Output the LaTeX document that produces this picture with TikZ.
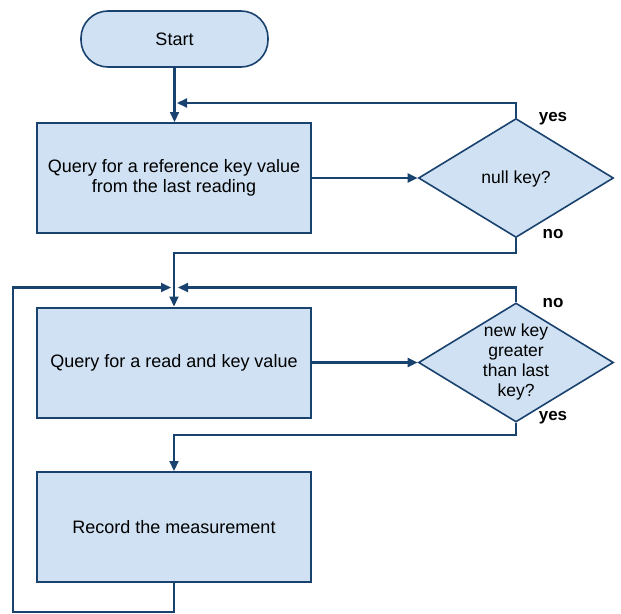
\documentclass[tikz,border=0pt]{standalone}
\usepackage{fontspec}
\setmainfont{Liberation Sans}
\usetikzlibrary{shapes.geometric,arrows.meta}
\definecolor{fillb}{HTML}{CFE1F2}
\definecolor{lineb}{HTML}{1A426E}
\begin{document}
\begin{tikzpicture}[x=1pt,y=1pt,
  every node/.style={font=\fontsize{18}{20}\selectfont},
  boxst/.style={draw=lineb,fill=fillb,line width=2pt,minimum width=274pt,minimum height=110pt,inner sep=0pt,align=center},
  startst/.style={draw=lineb,fill=fillb,line width=1.6pt,rounded corners=27pt,minimum width=187pt,minimum height=56pt,inner sep=0pt},
  diast/.style={draw=lineb,fill=fillb,line width=1.6pt,diamond,minimum width=195pt,minimum height=119pt,inner sep=0pt},
  dtext/.style={align=center,font=\fontsize{17.5}{20}\selectfont},
  lab/.style={font=\bfseries\fontsize{17}{18}\selectfont},
  conn/.style={draw=lineb,line width=2.2pt,-{Triangle[length=10pt,width=9pt]}}]
\useasboundingbox (0,0) rectangle (621,-613);
\node[startst] (start) at (174.5,-39) {Start};
\node[boxst] (b1) at (174,-178) {Query for a reference key value\\from the last reading};
\node[diast] (d1) at (516,-178) {};
\node[dtext] (d1t) at (516,-179) {null key?};
\node[boxst] (b2) at (174,-362.5) {Query for a read and key value};
\node[diast] (d2) at (516,-362.5) {};
\node[dtext] (d2t) at (516,-362) {new key\\greater\\than last\\key?};
\node[boxst] (b3) at (174,-527) {Record the measurement};
\node[lab] (y1) at (553,-119) {yes};
\node[lab] (n1) at (553,-234) {no};
\node[lab] (n2) at (553,-303) {no};
\node[lab] (y2) at (553,-418) {yes};
\coordinate (c1) at (177,-103);
\coordinate (c3) at (178,-287.5);
\coordinate (c4) at (171,-287.5);
\coordinate (corner) at (13,-612);
\draw[conn] (start.south) -- (start.south |- b1.north);
\draw[conn] (b1.east) -- (d1.west);
\draw[conn] (d1.north) |- (c1);
\draw[conn] (d1.south) -- ++(0,-15) -| (b2.north);
\draw[conn] (b2.east) -- (d2.west);
\draw[conn] (d2.north) |- (c3);
\draw[conn] (d2.south) -- ++(0,-12) -| (b3.north);
\draw[conn] (b3.south) |- (corner) |- (c4);
\end{tikzpicture}
\end{document}
